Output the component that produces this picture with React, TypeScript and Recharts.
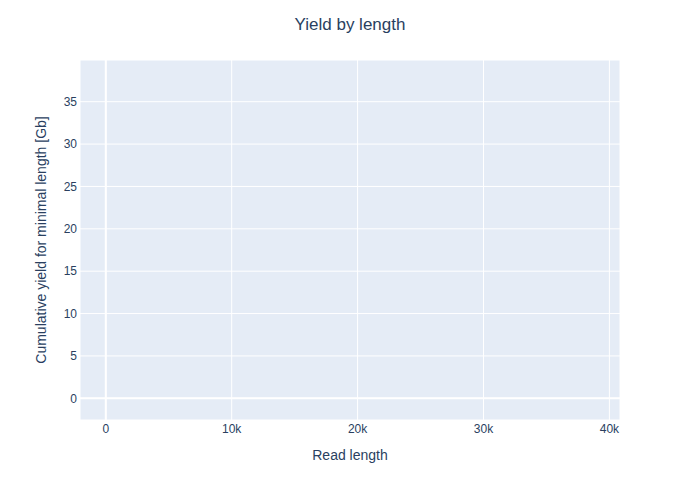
import {
  LineChart,
  Line,
  XAxis,
  YAxis,
  CartesianGrid,
  ReferenceLine,
} from "recharts";

// the reference plot shows no trace, so the series is empty
const readLengths: number[] = [];
const yieldGb: number[] = [];

const xTicks = [0, 10000, 20000, 30000, 40000];
const yTicks = [0, 5, 10, 15, 20, 25, 30, 35];

const data = readLengths.map((len, i) => ({ len, gb: yieldGb[i] }));

const font = '"Liberation Sans", Arial, sans-serif';
const ink = "#2a3f5f";

const fmtK = (v: number) => (v === 0 ? "0" : `${v / 1000}k`);

export default function App() {
  return (
    <div
      style={{
        position: "absolute",
        left: 0,
        top: 0,
        width: 700,
        height: 500,
        background: "#fff",
        fontFamily: font,
      }}
    >
      <LineChart
        width={700}
        height={500}
        data={data}
        margin={{ top: 60, right: 80, bottom: 0, left: 0 }}
      >
        <CartesianGrid
          fill="#E5ECF6"
          stroke="#fff"
          strokeWidth={1}
          fillOpacity={1}
        />
        <XAxis
          type="number"
          dataKey="len"
          domain={[-2049, 40842]}
          ticks={xTicks}
          tickFormatter={fmtK}
          allowDataOverflow
          height={80}
          axisLine={false}
          tickLine={false}
          tickSize={0}
          tickMargin={4}
          tick={{ fill: ink, fontSize: 12, fontFamily: font }}
        />
        <YAxis
          type="number"
          domain={[-2.56, 39.92]}
          ticks={yTicks}
          allowDataOverflow
          width={80}
          axisLine={false}
          tickLine={false}
          tickSize={0}
          tickMargin={3}
          tick={{ fill: ink, fontSize: 12, fontFamily: font }}
        />
        <ReferenceLine y={0} stroke="#fff" strokeWidth={2} />
        <ReferenceLine x={0} stroke="#fff" strokeWidth={2} />
        <Line
          type="linear"
          dataKey="gb"
          stroke="#636efa"
          strokeWidth={2}
          dot={false}
          isAnimationActive={false}
        />
        <text
          x={350}
          y={30}
          textAnchor="middle"
          fill={ink}
          fontSize={17}
          fontFamily={font}
        >
          Yield by length
        </text>
        <text
          x={350}
          y={460}
          textAnchor="middle"
          fill={ink}
          fontSize={14}
          fontFamily={font}
        >
          Read length
        </text>
        <text
          x={46}
          y={240}
          textAnchor="middle"
          fill={ink}
          fontSize={14}
          fontFamily={font}
          transform="rotate(-90 46 240)"
        >
          Cumulative yield for minimal length [Gb]
        </text>
      </LineChart>
    </div>
  );
}
